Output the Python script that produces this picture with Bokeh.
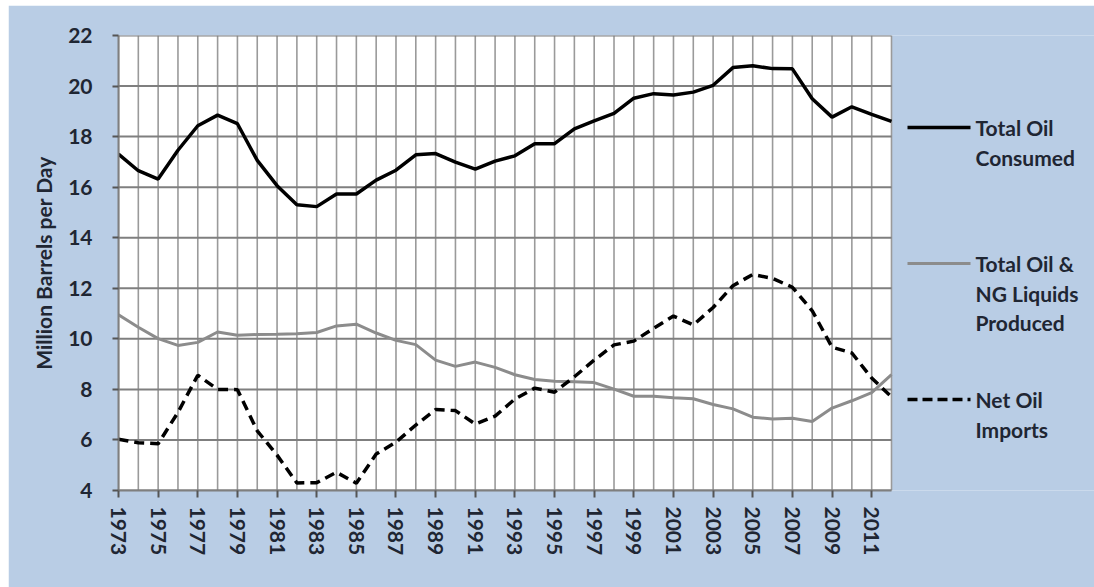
from bokeh.plotting import figure
from bokeh.models import FixedTicker, Range1d, Label, Spacer
from bokeh.layouts import column, row
from bokeh.embed import file_html
from bokeh.resources import INLINE

years = list(range(1973, 2013))
total_consumed = [17.31, 16.65, 16.32, 17.46, 18.43, 18.85, 18.51, 17.06, 16.06, 15.30,
                  15.23, 15.73, 15.73, 16.28, 16.67, 17.28, 17.33, 16.99, 16.71, 17.03,
                  17.24, 17.72, 17.72, 18.31, 18.62, 18.92, 19.52, 19.70, 19.65, 19.76,
                  20.03, 20.73, 20.80, 20.69, 20.68, 19.50, 18.77, 19.18, 18.88, 18.60]
total_produced = [10.95, 10.46, 10.01, 9.74, 9.86, 10.27, 10.14, 10.17, 10.18, 10.20,
                  10.25, 10.51, 10.58, 10.23, 9.94, 9.77, 9.16, 8.91, 9.08, 8.87,
                  8.58, 8.39, 8.32, 8.30, 8.27, 8.01, 7.73, 7.73, 7.67, 7.63,
                  7.40, 7.23, 6.90, 6.83, 6.86, 6.73, 7.26, 7.55, 7.87, 8.58]
net_imports = [6.03, 5.89, 5.85, 7.09, 8.56, 8.00, 7.99, 6.36, 5.40, 4.30,
               4.31, 4.72, 4.29, 5.44, 5.91, 6.59, 7.20, 7.16, 6.63, 6.94,
               7.62, 8.05, 7.89, 8.50, 9.16, 9.76, 9.91, 10.42, 10.90, 10.55,
               11.24, 12.10, 12.55, 12.39, 12.04, 11.11, 9.67, 9.44, 8.45, 7.70]
x_tick_years = list(range(1973, 2012, 2))
y_ticks = list(range(4, 23, 2))
legend_consumed = ["Total Oil", "Consumed"]
legend_produced = ["Total Oil &", "NG Liquids", "Produced"]
legend_imports = ["Net Oil", "Imports"]
y_title = "Million Barrels per Day"

BG = "#B9CDE5"
TXT = "#1F2633"
FONT = "Lato"

# layout (pixels)
FIG_W, FIG_H = 1086, 582
LEFT, TOP = 110, 30
FH = 455
BOTTOM = FIG_H - TOP - FH
PLOT_W = 773                      # width of the white plot area
FW = FIG_W - LEFT                 # frame width (plot area + legend region)

x_start, x_plot_end = years[0], years[-1]
y_start, y_end = y_ticks[0], y_ticks[-1]
x_frame_end = x_start + (x_plot_end - x_start) * FW / PLOT_W

p = figure(width=FIG_W, height=FIG_H, output_backend="svg", toolbar_location=None,
           x_range=Range1d(x_start, x_frame_end), y_range=Range1d(y_start, y_end),
           min_border_left=LEFT, min_border_right=0, min_border_top=TOP, min_border_bottom=BOTTOM,
           background_fill_color=BG, border_fill_color=BG, outline_line_color=None)
p.xgrid.visible = False
p.ygrid.visible = False

# white plot area
p.quad(left=[x_start], right=[x_plot_end], bottom=[y_start], top=[y_end],
       fill_color="white", line_color=None)
# grid lines
p.segment(x0=years, x1=years, y0=[y_start] * len(years), y1=[y_end] * len(years),
          line_color="#9A9A9A", line_width=1.6)
p.segment(x0=[x_start] * len(y_ticks), x1=[x_plot_end] * len(y_ticks), y0=y_ticks, y1=y_ticks,
          line_color="#7F7F7F", line_width=2)

# axes
p.xaxis.ticker = FixedTicker(ticks=x_tick_years)
p.xaxis.bounds = (x_start, x_plot_end)
p.yaxis.ticker = FixedTicker(ticks=y_ticks)
for ax in (p.xaxis[0], p.yaxis[0]):
    ax.axis_line_color = "#7F7F7F"
    ax.axis_line_width = 2
    ax.major_tick_line_color = "#555555"
    ax.major_tick_line_width = 2
    ax.major_tick_in = 0
    ax.minor_tick_line_color = None
    ax.major_label_text_font = FONT
    ax.major_label_text_font_style = "bold"
    ax.major_label_text_font_size = "21px"
    ax.major_label_text_color = TXT
p.xaxis.major_tick_out = 7
p.xaxis.major_label_orientation = "vertical"
p.xaxis.major_label_standoff = 9
p.yaxis.major_tick_out = 6
p.yaxis.major_label_standoff = 20
p.yaxis.axis_label = y_title
p.yaxis.axis_label_text_font = FONT
p.yaxis.axis_label_text_font_style = "bold"
p.yaxis.axis_label_text_font_size = "21px"
p.yaxis.axis_label_text_color = TXT
p.yaxis.axis_label_standoff = 9

# series
p.line(years, total_consumed, line_color="black", line_width=3.5)
p.line(years, total_produced, line_color="#8C8C8C", line_width=3)
p.line(years, net_imports, line_color="black", line_width=3.5, line_dash="10 6")

# legend, to the right of the plot area
def sx(px):  # pixels from frame left -> data x
    return x_start + px * (x_frame_end - x_start) / FW
def sy(py):  # pixels from frame top -> data y
    return y_end - py * (y_end - y_start) / FH

entries = [
    (legend_consumed, 92, dict(line_color="black", line_width=3.5)),
    (legend_produced, 228, dict(line_color="#8C8C8C", line_width=3)),
    (legend_imports, 364, dict(line_color="black", line_width=3.5, line_dash="10 5")),
]
for lines, top, style in entries:
    p.line([sx(789), sx(852)], [sy(top), sy(top)], **style)
    for i, t in enumerate(lines):
        p.add_layout(Label(x=sx(857), y=sy(top + i * 29.5), text=t, text_font=FONT,
                           text_font_style="bold", text_font_size="21px", text_color=TXT,
                           text_baseline="middle", text_align="left"))

layout = column(Spacer(height=5), row(Spacer(width=8), p))
open("out.html", "w").write(file_html(layout, INLINE))
